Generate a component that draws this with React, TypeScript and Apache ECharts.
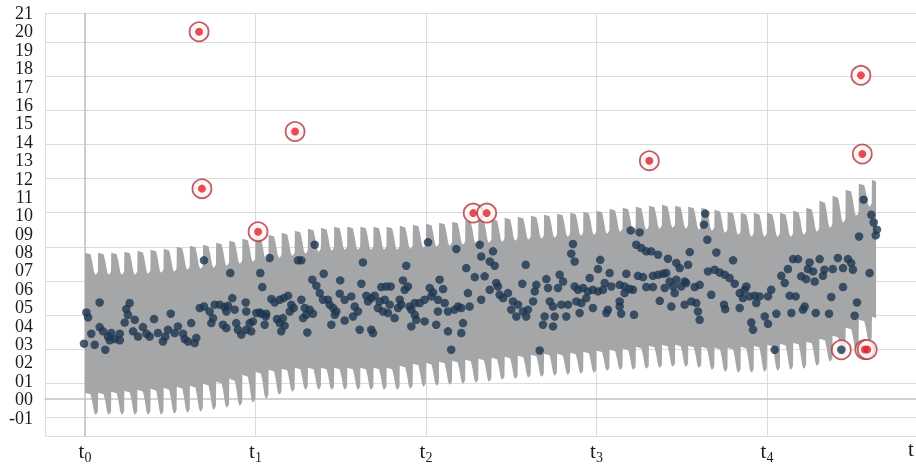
import React, { useEffect, useRef } from 'react';
import * as echarts from 'echarts';

// ---------- axis / tick data ----------
const X_TICK_LABELS = ['0', '1', '2', '3', '4'];
const X_MIN = -0.2346;
const X_MAX = 4.874;
const Y_MIN = -2;
const Y_MAX = 21;
const GRID_BASE = -1; // horizontal grid lines start here (label scale)
const GRID_STEP = 13 / 7; // spacing of horizontal grid lines (label scale)

// ---------- band (seasonal interval), one value per tooth ----------
const TEETH_PER_UNIT = 13;
const BAND_END = 4.64;
const UPPER_HIGH = [7.96, 7.96, 7.96, 8.02, 8.07, 8.13, 8.18, 8.29, 8.35, 8.40, 8.51, 8.62, 8.73, 8.83, 8.94, 9.05, 9.16, 9.27, 9.32, 9.38, 9.38, 9.38, 9.38, 9.38, 9.43, 9.49, 9.54, 9.60, 9.65, 9.71, 9.76, 9.81, 9.87, 9.92, 9.98, 10.03, 10.09, 10.14, 10.19, 10.25, 10.35, 10.41, 10.47, 10.52, 10.57, 10.52, 10.47, 10.41, 10.30, 10.19, 10.14, 10.14, 10.14, 10.14, 10.25, 10.41, 10.79, 11.06, 11.39, 11.72, 11.93];
const UPPER_LOW = [6.77, 6.77, 6.77, 6.77, 6.82, 6.88, 6.93, 7.04, 7.09, 7.15, 7.26, 7.37, 7.48, 7.58, 7.69, 7.80, 7.91, 8.02, 8.07, 8.13, 8.13, 8.13, 8.13, 8.13, 8.18, 8.24, 8.29, 8.35, 8.40, 8.45, 8.51, 8.56, 8.62, 8.67, 8.73, 8.78, 8.83, 8.89, 8.94, 9.00, 9.11, 9.16, 9.22, 9.27, 9.32, 9.27, 9.22, 9.16, 9.05, 8.94, 8.83, 8.83, 8.83, 8.83, 8.94, 9.11, 9.32, 9.60, 9.98, 10.47, 10.70];
const LOWER_HIGH = [0.35, 0.35, 0.41, 0.46, 0.52, 0.57, 0.62, 0.68, 0.73, 0.84, 0.95, 1.11, 1.33, 1.49, 1.60, 1.66, 1.71, 1.71, 1.71, 1.71, 1.71, 1.71, 1.71, 1.71, 1.82, 1.93, 1.98, 2.04, 2.09, 2.15, 2.20, 2.26, 2.31, 2.36, 2.42, 2.47, 2.47, 2.53, 2.58, 2.64, 2.69, 2.74, 2.85, 2.91, 2.96, 2.96, 2.91, 2.85, 2.80, 2.80, 2.85, 2.91, 2.96, 3.02, 3.07, 3.13, 3.29, 3.45, 3.89, 4.32, 4.49];
const LOWER_LOW = [-0.84, -0.84, -0.84, -0.84, -0.84, -0.84, -0.79, -0.74, -0.68, -0.57, -0.46, -0.36, -0.19, 0.02, 0.24, 0.41, 0.52, 0.52, 0.52, 0.52, 0.52, 0.52, 0.52, 0.52, 0.57, 0.68, 0.73, 0.79, 0.84, 0.90, 0.95, 1.06, 1.11, 1.17, 1.22, 1.28, 1.33, 1.39, 1.44, 1.55, 1.60, 1.60, 1.66, 1.71, 1.77, 1.77, 1.71, 1.60, 1.49, 1.44, 1.44, 1.49, 1.55, 1.60, 1.66, 1.82, 2.04, 2.31, 2.69, 3.13, 3.40];
// shape of one tooth: [phase within period, fraction between low and high]
const TOOTH_PROFILE: [number, number][] = [[0, 1], [0.42, 0.93], [0.55, 0.6], [0.68, 0.15], [0.78, 0], [0.9, 0.05], [0.985, 0.15]];

// ---------- observations ----------
const POINTS_SEG1 = [[0.086, 5.26], [0.008, 4.72], [0.018, 4.45], [-0.006, 3.02], [0.037, 3.56], [0.057, 2.96], [0.119, 2.69], [0.086, 3.92], [0.106, 3.69], [0.135, 3.41], [0.154, 3.60], [0.174, 3.27], [0.204, 3.56], [0.204, 3.20], [0.145, 3.20], [0.233, 4.17], [0.242, 4.90], [0.262, 5.23], [0.252, 4.59], [0.292, 4.32], [0.282, 3.69], [0.311, 3.41], [0.340, 3.92], [0.360, 3.56], [0.379, 3.41], [0.405, 4.36], [0.428, 3.60], [0.457, 3.14], [0.471, 3.41], [0.487, 3.78], [0.503, 4.65], [0.526, 3.60], [0.545, 3.96], [0.575, 3.56], [0.585, 3.27], [0.604, 3.14], [0.623, 4.14], [0.643, 3.05], [0.653, 3.33], [0.673, 4.96], [0.698, 5.04], [0.698, 7.55], [0.731, 4.77], [0.751, 4.41], [0.761, 5.14], [0.741, 4.14]];
const POINTS_SEG2 = [[1.347, 8.40], [1.083, 7.68], [1.249, 7.55], [1.269, 7.55], [0.852, 6.86], [1.028, 6.86], [1.040, 6.10], [1.400, 6.82], [1.333, 6.50], [1.357, 6.17], [1.497, 6.46], [0.864, 5.50], [0.790, 5.14], [0.819, 5.01], [0.839, 5.08], [0.878, 4.87], [0.943, 5.26], [0.946, 4.77], [1.005, 4.69], [1.034, 4.65], [1.063, 4.65], [1.093, 5.45], [1.113, 5.26], [1.142, 5.41], [1.165, 5.50], [1.191, 5.63], [1.210, 5.14], [1.224, 4.96], [1.269, 5.41], [1.289, 4.96], [1.318, 4.87], [1.337, 4.65], [1.377, 5.77], [1.396, 5.41], [1.425, 5.41], [1.435, 5.14], [1.455, 4.96], [1.474, 4.77], [1.494, 5.74], [1.523, 5.41], [0.809, 4.05], [0.829, 3.87], [0.887, 4.14], [0.897, 3.78], [0.917, 3.51], [0.946, 3.78], [0.966, 4.14], [0.975, 3.69], [0.985, 4.23], [1.054, 4.05], [1.060, 4.50], [1.126, 4.36], [1.142, 4.14], [1.161, 4.41], [1.171, 4.00], [1.151, 3.69], [1.201, 4.77], [1.279, 4.41], [1.298, 4.59], [1.304, 3.63], [1.445, 4.05], [1.465, 4.59], [1.523, 4.28], [0.829, 4.77], [1.025, 4.72]];
const POINTS_SEG3 = [[2.012, 8.53], [2.178, 8.17], [1.630, 7.44], [1.884, 7.26], [2.315, 8.40], [2.324, 7.76], [2.236, 7.13], [2.286, 6.64], [1.621, 6.28], [2.080, 6.50], [1.738, 6.10], [1.767, 6.13], [1.793, 6.13], [1.865, 6.46], [1.875, 5.95], [1.894, 6.13], [2.022, 6.05], [2.041, 5.81], [2.100, 5.99], [2.246, 5.77], [1.562, 5.59], [1.650, 5.63], [1.679, 5.50], [1.699, 5.63], [1.660, 5.32], [1.728, 5.32], [1.758, 5.41], [1.787, 5.14], [1.846, 5.41], [1.855, 5.14], [1.904, 5.04], [1.934, 5.23], [1.963, 5.23], [1.992, 5.41], [2.031, 5.59], [2.070, 5.41], [2.110, 5.23], [2.129, 4.77], [2.168, 4.87], [2.188, 5.04], [2.207, 4.96], [2.256, 5.04], [1.582, 5.04], [1.601, 4.77], [1.572, 4.50], [1.611, 3.78], [1.679, 3.78], [1.689, 3.60], [1.718, 4.96], [1.748, 4.77], [1.777, 4.69], [1.816, 4.41], [1.836, 4.96], [1.914, 4.87], [1.934, 4.59], [1.943, 4.32], [1.992, 4.23], [1.914, 3.96], [2.060, 4.05], [2.070, 4.77], [2.129, 3.69], [2.217, 4.14], [2.207, 3.60], [2.148, 2.69], [2.324, 5.41]];
const POINTS_SEG4 = [[2.862, 8.44], [2.852, 7.91], [2.872, 7.49], [2.393, 8.04], [2.374, 7.49], [2.403, 7.26], [2.585, 7.31], [3.022, 7.58], [3.009, 7.08], [3.077, 6.86], [2.344, 6.68], [2.412, 6.32], [2.422, 6.13], [2.374, 5.95], [2.565, 6.28], [2.706, 6.53], [2.784, 6.77], [2.804, 6.40], [2.960, 6.59], [3.048, 6.32], [2.647, 6.22], [2.638, 5.86], [2.716, 6.05], [2.774, 6.05], [2.872, 6.13], [2.892, 5.95], [2.921, 6.05], [2.950, 5.86], [2.979, 5.95], [3.009, 5.86], [3.038, 5.95], [3.087, 6.13], [2.432, 5.68], [2.452, 5.50], [2.481, 5.77], [2.510, 5.32], [2.540, 5.14], [2.500, 4.87], [2.530, 4.50], [2.569, 4.77], [2.598, 4.87], [2.628, 5.32], [2.588, 4.50], [2.726, 5.32], [2.745, 5.04], [2.794, 5.14], [2.833, 5.14], [2.882, 5.32], [2.911, 5.23], [2.940, 5.50], [2.979, 4.96], [2.901, 4.69], [3.058, 4.69], [3.067, 4.87], [2.696, 4.50], [2.686, 4.05], [2.755, 4.50], [2.745, 3.96], [2.823, 4.50], [2.667, 2.65]];
const POINTS_SEG5 = [[3.638, 10.09], [3.630, 9.49], [3.650, 8.67], [3.201, 9.18], [3.253, 9.07], [3.233, 8.40], [3.263, 8.22], [3.292, 8.04], [3.321, 8.04], [3.361, 7.86], [3.419, 7.64], [3.468, 7.41], [3.488, 7.13], [3.547, 8.00], [3.537, 7.31], [3.703, 7.98], [3.801, 7.55], [3.175, 6.82], [3.243, 6.71], [3.273, 6.64], [3.331, 6.71], [3.361, 6.77], [3.390, 6.82], [3.409, 6.86], [3.429, 6.40], [3.468, 6.50], [3.517, 6.40], [3.654, 6.95], [3.693, 7.04], [3.723, 6.89], [3.752, 6.77], [3.781, 6.59], [3.811, 6.28], [3.136, 6.22], [3.165, 6.13], [3.195, 5.99], [3.214, 5.95], [3.165, 5.77], [3.292, 6.10], [3.331, 6.10], [3.400, 6.05], [3.449, 6.13], [3.497, 6.13], [3.526, 6.32], [3.576, 6.10], [3.605, 6.22], [3.459, 5.77], [3.673, 5.68], [3.840, 5.77], [3.869, 5.95], [3.879, 6.13], [3.898, 5.59], [3.928, 5.63], [3.859, 5.50], [3.136, 5.32], [3.136, 5.04], [3.145, 4.65], [3.371, 5.35], [3.439, 5.04], [3.517, 5.14], [3.556, 5.32], [3.585, 5.23], [3.748, 5.14], [3.755, 4.90], [3.840, 4.96], [3.595, 4.77], [3.605, 4.32], [3.220, 4.59], [3.908, 4.17], [3.918, 3.78]];
const POINTS_SEG6 = [[4.567, 10.85], [4.612, 10.03], [4.626, 9.61], [4.645, 9.22], [4.638, 8.91], [4.540, 8.85], [4.153, 7.62], [4.182, 7.62], [4.250, 7.44], [4.309, 7.62], [4.416, 7.68], [4.475, 7.62], [4.494, 7.40], [4.123, 7.08], [4.240, 7.08], [4.270, 6.95], [4.337, 7.04], [4.386, 7.08], [4.446, 7.13], [4.504, 7.04], [4.084, 6.71], [4.201, 6.68], [4.230, 6.53], [4.280, 6.40], [4.328, 6.71], [4.104, 6.32], [4.602, 6.86], [4.446, 6.10], [4.025, 5.95], [3.957, 5.59], [4.006, 5.59], [4.133, 5.63], [4.168, 5.59], [4.377, 5.56], [3.937, 5.23], [4.221, 5.04], [4.211, 4.87], [4.528, 5.26], [3.987, 4.50], [4.006, 4.10], [4.055, 4.65], [4.143, 4.69], [4.286, 4.69], [4.364, 4.65], [4.514, 4.54], [4.045, 2.69], [4.436, 2.69]];

// anomalies: red points, plus a regular point that is also flagged
const OUTLIERS = [[0.669, 19.98], [0.686, 11.45], [1.015, 9.11], [1.232, 14.56], [2.277, 10.12], [2.356, 10.12], [3.310, 12.97], [4.551, 17.61], [4.559, 13.33], [4.574, 2.70], [4.588, 2.70]];
const FLAGGED_REGULAR = [[4.436, 2.69]];

const BAND_COLOR = '#a5a6a8';
const POINT_COLOR = '#1d3650';
const RED = '#e0232b';
const RING = '#b1363c';
const GRID_COLOR = '#dcdcdc';
const FRAME_COLOR = '#c2c2c2';
const TEXT_COLOR = '#1c1c1c';
const FONT = '"Liberation Serif", "Times New Roman", serif';

const POINTS = [...POINTS_SEG1, ...POINTS_SEG2, ...POINTS_SEG3, ...POINTS_SEG4, ...POINTS_SEG5, ...POINTS_SEG6];

function yLabel(v: number): string {
  const n = Math.round(v);
  if (Math.abs(v - n) > 1e-6 || n < -1) return '';
  if (n < 0) return '-0' + -n;
  return n < 10 ? '0' + n : String(n);
}

function buildOption(): any {
  return {
    animation: false,
    grid: { left: 45, right: 0, top: 13, bottom: 32, containLabel: false },
    xAxis: [
      {
        type: 'value',
        min: X_MIN,
        max: X_MAX,
        minInterval: 1,
        maxInterval: 1,
        axisLine: { show: true, lineStyle: { color: FRAME_COLOR, width: 1.5 } },
        axisTick: { show: false },
        splitLine: { show: true, lineStyle: { color: GRID_COLOR, width: 1 } },
        axisLabel: {
          showMinLabel: false,
          showMaxLabel: false,
          margin: 2,
          formatter: (v: number) => {
            const i = Math.round(v);
            if (Math.abs(v - i) > 1e-6 || i < 0 || i >= X_TICK_LABELS.length) return '';
            return '{t|t}{s|' + X_TICK_LABELS[i] + '}';
          },
          rich: {
            t: { fontFamily: FONT, fontSize: 21, color: TEXT_COLOR },
            s: { fontFamily: FONT, fontSize: 14, color: TEXT_COLOR, padding: [12, 0, 0, 0] },
          },
        },
      },
    ],
    yAxis: [
      {
        type: 'value',
        min: Y_MIN,
        max: Y_MAX,
        interval: 1,
        axisLine: { show: true, lineStyle: { color: FRAME_COLOR, width: 1.5 } },
        axisTick: { show: false },
        splitLine: { show: false },
        axisLabel: {
          showMinLabel: false,
          showMaxLabel: true,
          hideOverlap: false,
          margin: 12,
          color: TEXT_COLOR,
          fontFamily: FONT,
          fontSize: 18,
          lineHeight: 16,
          formatter: yLabel,
        },
      },
      {
        type: 'value',
        position: 'right',
        min: (Y_MIN - GRID_BASE) / GRID_STEP,
        max: (Y_MAX - GRID_BASE) / GRID_STEP,
        minInterval: 1,
        maxInterval: 1,
        axisLine: { show: false },
        axisTick: { show: false },
        axisLabel: { show: false },
        splitLine: { show: true, lineStyle: { color: GRID_COLOR, width: 1 } },
      },
    ],
    graphic: [
      {
        type: 'text',
        left: 908,
        top: 438,
        style: { text: 't', font: '21px ' + FONT, fill: TEXT_COLOR },
      },
    ],
    series: [
      {
        type: 'custom',
        name: 'band',
        silent: true,
        z: 1,
        data: [[0, 0]],
        renderItem: (_params: any, api: any) => {
          const up: number[][] = [];
          const lo: number[][] = [];
          let done = false;
          for (let k = 0; k < UPPER_HIGH.length && !done; k++) {
            const x0 = k / TEETH_PER_UNIT;
            for (const [p, f] of TOOTH_PROFILE) {
              let x = x0 + p / TEETH_PER_UNIT;
              if (x >= BAND_END) {
                x = BAND_END;
                done = true;
              }
              up.push(api.coord([x, UPPER_LOW[k] + f * (UPPER_HIGH[k] - UPPER_LOW[k])]));
              lo.push(api.coord([x, LOWER_LOW[k] + f * (LOWER_HIGH[k] - LOWER_LOW[k])]));
              if (done) break;
            }
          }
          const pts = up.concat(lo.reverse());
          return { type: 'polygon', shape: { points: pts }, style: { fill: BAND_COLOR } };
        },
      },
      {
        type: 'scatter',
        name: 'ring',
        silent: true,
        z: 3,
        symbol: 'circle',
        symbolSize: 19,
        itemStyle: { color: '#fff5f5', borderColor: RING, borderWidth: 1.8 },
        data: [...OUTLIERS, ...FLAGGED_REGULAR],
      },
      {
        type: 'scatter',
        name: 'outlier',
        silent: true,
        z: 4,
        symbol: 'circle',
        symbolSize: 8,
        itemStyle: { color: RED },
        data: OUTLIERS,
      },
      {
        type: 'scatter',
        name: 'observations',
        silent: true,
        z: 5,
        symbol: 'circle',
        symbolSize: 8.5,
        itemStyle: { color: POINT_COLOR },
        data: POINTS,
      },
    ],
  };
}

export default function App() {
  const ref = useRef<HTMLDivElement>(null);
  useEffect(() => {
    if (!ref.current) return;
    const chart = echarts.init(ref.current, null, { renderer: 'svg' });
    chart.setOption(buildOption());
    return () => chart.dispose();
  }, []);
  return <div ref={ref} style={{ position: 'fixed', left: 0, top: 0, width: 916, height: 468 }} />;
}
